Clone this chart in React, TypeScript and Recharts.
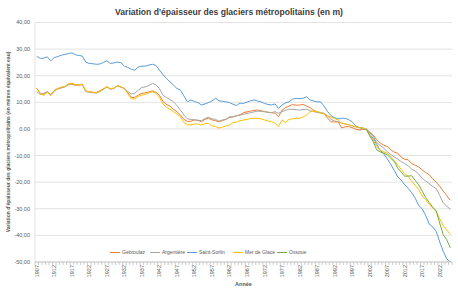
import React from 'react';
import { LineChart, Line, XAxis, YAxis, CartesianGrid } from 'recharts';

const YEARS = [
  1907, 1908, 1909, 1910, 1911, 1912, 1913, 1914, 1915, 1916,
  1917, 1918, 1919, 1920, 1921, 1922, 1923, 1924, 1925, 1926,
  1927, 1928, 1929, 1930, 1931, 1932, 1933, 1934, 1935, 1936,
  1937, 1938, 1939, 1940, 1941, 1942, 1943, 1944, 1945, 1946,
  1947, 1948, 1949, 1950, 1951, 1952, 1953, 1954, 1955, 1956,
  1957, 1958, 1959, 1960, 1961, 1962, 1963, 1964, 1965, 1966,
  1967, 1968, 1969, 1970, 1971, 1972, 1973, 1974, 1975, 1976,
  1977, 1978, 1979, 1980, 1981, 1982, 1983, 1984, 1985, 1986,
  1987, 1988, 1989, 1990, 1991, 1992, 1993, 1994, 1995, 1996,
  1997, 1998, 1999, 2000, 2001, 2002, 2003, 2004, 2005, 2006,
  2007, 2008, 2009, 2010, 2011, 2012, 2013, 2014, 2015, 2016,
  2017, 2018, 2019, 2020, 2021, 2022, 2023, 2024, 2025,
];

const GEBROULAZ = [
  15.2, 13.4, 13.0, 14.0, 12.8, 14.4, 15.2, 15.6, 15.9, 16.6,
  16.8, 16.4, 16.5, 16.6, 14.2, 14.0, 13.8, 13.7, 14.3, 15.0,
  15.8, 15.0, 15.2, 16.2, 15.8, 15.2, 13.6, 11.8, 11.9, 12.7,
  13.4, 13.6, 13.9, 14.3, 13.8, 12.7, 10.4, 9.2, 8.6, 7.4,
  6.5, 5.2, 3.6, 2.8, 2.9, 3.4, 3.2, 2.7, 3.6, 4.0,
  3.4, 3.1, 2.7, 3.1, 3.6, 4.3, 4.6, 5.0, 5.3, 6.1,
  6.4, 6.7, 7.0, 7.1, 6.8, 6.5, 6.3, 6.1, 5.9, 4.6,
  7.1, 8.0, 8.6, 9.2, 8.9, 9.0, 9.2, 8.6, 8.0, 7.1,
  6.3, 6.0, 5.8, 4.0, 2.7, 2.6, 2.7, 0.4, 0.8, 0.9,
  0.5, -0.1, -0.4, -0.2, 0, -1.2, -2.2, -4.1, -5.2, -6.1,
  -6.6, -7.8, -8.7, -9.1, -10.6, -11.4, -11.6, -13.0, -13.6, -14.3,
  -15.4, -16.4, -17.2, -18.8, -20.0, -21.6, -23.4, -25.0, -26.8,
];

const ARGENTIERE = [
  14.0, 13.0, 13.4, 14.0, 12.7, 14.2, 15.0, 15.4, 15.8, 16.8,
  17.0, 16.7, 16.7, 16.8, 14.0, 13.8, 13.6, 13.5, 14.0, 14.8,
  15.8, 15.0, 15.3, 16.2, 15.7, 15.2, 14.0, 13.2, 13.4, 14.6,
  15.6, 15.8, 16.3, 17.1, 16.6, 15.2, 12.7, 11.8, 11.1, 10.2,
  8.8, 7.1, 5.2, 3.8, 3.6, 3.4, 3.3, 3.1, 3.9, 4.4,
  3.8, 3.6, 2.9, 3.4, 3.6, 4.6, 4.5, 4.9, 5.2, 5.5,
  5.8, 6.1, 6.4, 6.7, 6.6, 6.5, 6.2, 6.1, 6.5, 5.9,
  6.5, 7.0, 7.4, 7.4, 7.2, 7.1, 7.3, 7.4, 6.9, 6.5,
  6.3, 6.1, 5.9, 4.9, 3.6, 3.0, 2.7, 2.2, 1.8, 1.6,
  1.2, 0.7, 0.5, 0.3, 0, -1.4, -2.6, -5.1, -6.2, -7.2,
  -8.5, -9.6, -10.5, -11.3, -12.3, -13.0, -13.9, -15.1, -15.8, -17.0,
  -18.5, -19.6, -20.5, -21.6, -22.4, -25.0, -27.8, -29.0, -30.2,
];

const SAINT_SORLIN = [
  27.3, 26.5, 26.6, 27.1, 25.6, 26.8, 27.2, 27.7, 28.0, 28.3,
  28.6, 27.9, 27.6, 27.4, 25.1, 24.6, 24.5, 24.3, 24.4, 25.0,
  25.6, 24.6, 24.8, 25.1, 24.9, 23.6, 23.1, 22.4, 22.1, 23.3,
  23.6, 23.6, 24.0, 24.3, 23.9, 22.1, 20.4, 19.0, 17.7, 16.5,
  15.2, 14.6, 12.4, 10.2, 10.9, 10.3, 9.9, 9.0, 9.4, 9.9,
  10.5, 11.5, 10.6, 10.4, 10.2, 9.9, 9.3, 8.8, 9.7, 9.6,
  10.1, 10.6, 10.9, 10.5, 10.2, 9.6, 9.2, 9.0, 9.4, 7.7,
  9.0, 9.8, 10.2, 11.2, 11.5, 11.4, 11.5, 12.1, 10.9, 10.5,
  10.2, 10.2, 8.6, 6.5, 5.0, 4.2, 3.8, 4.0, 4.0, 3.5,
  2.7, 1.2, 0.5, 0.3, 0, -2.0, -3.5, -5.8, -8.0, -9.4,
  -11.2, -13.2, -15.5, -18.0, -19.2, -21.0, -22.3, -24.0, -26.0, -28.8,
  -30.0, -32.5, -35.8, -36.8, -38.5, -42.5, -46.0, -48.8, -50.0,
];

const MER_DE_GLACE = [
  15.4, 13.2, 12.6, 13.8, 12.5, 14.5, 15.1, 15.7, 16.0, 16.9,
  17.2, 16.6, 16.6, 16.8, 14.3, 14.0, 13.8, 13.6, 14.2, 15.0,
  15.8, 15.2, 15.3, 16.3, 15.9, 15.2, 13.2, 11.4, 11.2, 12.2,
  12.7, 13.0, 13.5, 14.0, 13.4, 11.9, 9.4, 8.2, 7.4, 6.5,
  5.6, 4.6, 2.4, 1.6, 1.5, 1.9, 1.8, 1.5, 2.0, 2.1,
  1.2, 0.9, 0.3, 0.7, 1.1, 1.5, 2.4, 2.6, 3.1, 3.3,
  3.6, 3.9, 4.0, 4.0, 3.8, 3.4, 3.0, 2.7, 2.1, 0.9,
  3.4, 2.4, 3.6, 3.8, 4.0, 4.0, 4.5, 5.2, 6.5, 6.7,
  6.5, 6.2, 5.6, 5.0, 4.4, 3.9, 3.4, 2.2, 1.9, 1.6,
  1.2, 0.9, 0.6, 0.3, 0, -2.3, -4.1, -6.6, -7.9, -8.6,
  -9.1, -10.5, -11.8, -13.5, -15.2, -16.8, -17.8, -19.6, -21.2, -22.8,
  -25.2, -26.6, -28.4, -29.7, -31.0, -33.8, -36.4, -38.0, -39.6,
];

// Ossoue: series starts in 2001
const OSSOUE_START = 2001;
const OSSOUE = [
  0, -2.6, -4.7, -7.9, -8.6, -9.1, -9.7, -11.0, -12.2, -14.7,
  -16.2, -17.8, -17.7, -17.6, -19.3, -21.0, -23.4, -25.8, -27.6, -29.4,
  -30.8, -35.5, -39.7, -41.6, -44.7,
];

const Y_TICKS = [-50, -40, -30, -20, -10, 0, 10, 20, 30, 40];
const LABEL_STEP = 5;

const SERIES = [
  { key: 'gebroulaz', name: 'Gebroulaz', color: '#ED7D31' },
  { key: 'argentiere', name: 'Argentière', color: '#A5A5A5' },
  { key: 'saintSorlin', name: 'Saint-Sorlin', color: '#5B9BD5' },
  { key: 'merDeGlace', name: 'Mer de Glace', color: '#FFC000' },
  { key: 'ossoue', name: 'Ossoue', color: '#70AD47' },
];

const data = YEARS.map((year, i) => ({
  year,
  gebroulaz: GEBROULAZ[i],
  argentiere: ARGENTIERE[i],
  saintSorlin: SAINT_SORLIN[i],
  merDeGlace: MER_DE_GLACE[i],
  ossoue: year >= OSSOUE_START ? OSSOUE[year - OSSOUE_START] : null,
}));

const W = 458;
const H = 305;
const FONT = 'Liberation Sans, Arial, sans-serif';
const HALF_BAND = 1.75;

const fmt = (v: number) => v.toFixed(2).replace('.', ',');

const XTick = (props: any) => {
  const { x, y, payload, index } = props;
  const yr = payload.value as number;
  const showLabel = (yr - YEARS[0]) % LABEL_STEP === 0;
  return (
    <g>
      <line x1={x - HALF_BAND} x2={x - HALF_BAND} y1={y} y2={y + 3} stroke="#BFBFBF" strokeWidth={0.75} />
      {index === YEARS.length - 1 && (
        <line x1={x + HALF_BAND} x2={x + HALF_BAND} y1={y} y2={y + 3} stroke="#BFBFBF" strokeWidth={0.75} />
      )}
      {showLabel && (
        <text
          transform={`translate(${x + 2},${y + 3}) rotate(-90)`}
          textAnchor="end"
          fontSize={5.5}
          fontFamily={FONT}
          fill="#595959"
        >
          {yr}
        </text>
      )}
    </g>
  );
};

export default function App() {
  return (
    <div style={{ position: 'absolute', left: 0, top: 0, width: W, height: H, background: '#fff' }}>
      <LineChart
        width={W}
        height={H}
        data={data}
        margin={{ top: 22.5, right: 6, bottom: 0, left: 0 }}
      >
        <CartesianGrid vertical={false} stroke="#D9D9D9" strokeWidth={0.75} />
        <XAxis
          dataKey="year"
          interval={0}
          height={43}
          tickSize={0}
          tickMargin={0}
          tickLine={false}
          axisLine={{ stroke: '#BFBFBF', strokeWidth: 0.75 }}
          padding={{ left: HALF_BAND, right: HALF_BAND }}
          tick={<XTick />}
        />
        <YAxis
          width={35}
          domain={[-50, 40]}
          ticks={Y_TICKS}
          allowDataOverflow
          tickFormatter={fmt}
          tickSize={0}
          tickMargin={5}
          tickLine={false}
          axisLine={{ stroke: '#D9D9D9', strokeWidth: 0.75 }}
          tick={{ fontSize: 5.5, fill: '#595959', fontFamily: FONT }}
        />
        {SERIES.map((s) => (
          <Line
            key={s.key}
            dataKey={s.key}
            name={s.name}
            stroke={s.color}
            strokeWidth={1}
            dot={false}
            type="linear"
            connectNulls={false}
            isAnimationActive={false}
          />
        ))}
      </LineChart>
      <svg
        width={W}
        height={H}
        style={{ position: 'absolute', left: 0, top: 0, pointerEvents: 'none' }}
      >
        <text x={229} y={15} textAnchor="middle" fontSize={8.6} fontWeight="bold" fontFamily={FONT} fill="#404040">
          Variation d'épaisseur des glaciers métropolitains (en m)
        </text>
        <text
          transform={`translate(10,142) rotate(-90)`}
          textAnchor="middle"
          fontSize={5}
          fontWeight="bold"
          fontFamily={FONT}
          fill="#595959"
        >
          Variation d'épaisseur des glaciers métropolitains (en mètres équivalent eau)
        </text>
        <text x={243.5} y={286} textAnchor="middle" fontSize={5.5} fontWeight="bold" fontFamily={FONT} fill="#595959">
          Année
        </text>
        {SERIES.map((s, i) => {
          const xs = [110, 150, 187, 233, 277];
          const x0 = xs[i];
          return (
            <g key={s.key}>
              <line x1={x0} x2={x0 + 10} y1={252.5} y2={252.5} stroke={s.color} strokeWidth={1} />
              <text x={x0 + 12} y={254.3} fontSize={5} fontFamily={FONT} fill="#595959">
                {s.name}
              </text>
            </g>
          );
        })}
      </svg>
    </div>
  );
}
